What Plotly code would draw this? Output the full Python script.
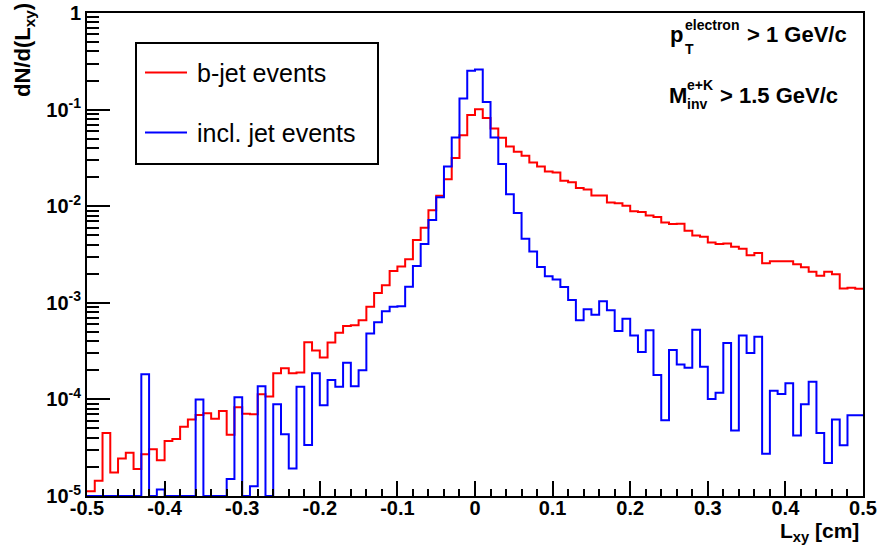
import numpy as np
import plotly.graph_objects as go

# Histogram binning: 100 bins of 0.01 cm between -0.5 and 0.5 cm
N_BINS = 100
L_MIN, L_MAX = -0.5, 0.5
Y_MIN, Y_MAX = 1e-5, 1.0

# dN/d(Lxy), normalised, one entry per bin (left to right)
bjet_events = [
    1.12e-5, 1.44e-5, 4.5e-5, 1.75e-5, 2.45e-5, 2.8e-5, 1.9e-5, 2.7e-5, 3.05e-5, 2.35e-5,
    3.7e-5, 3.9e-5, 5.2e-5, 6.2e-5, 6.9e-5, 7.2e-5, 6.3e-5, 7.6e-5, 4.3e-5, 8.3e-5,
    7.1e-5, 7.0e-5, 1.13e-4, 1.07e-4, 1.86e-4, 2.1e-4, 1.86e-4, 1.9e-4, 3.9e-4, 3.2e-4,
    2.72e-4, 3.88e-4, 4.9e-4, 5.75e-4, 5.85e-4, 6.6e-4, 9.1e-4, 1.26e-3, 1.52e-3, 2.14e-3,
    2.37e-3, 2.82e-3, 4.47e-3, 6.0e-3, 9.1e-3, 1.28e-2, 1.9e-2, 3.16e-2, 5.44e-2, 8.8e-2,
    0.101, 8.2e-2, 6.37e-2, 5.1e-2, 4.15e-2, 3.66e-2, 3.32e-2, 2.83e-2, 2.58e-2, 2.29e-2,
    2.23e-2, 1.83e-2, 1.77e-2, 1.54e-2, 1.49e-2, 1.29e-2, 1.29e-2, 1.09e-2, 1.07e-2, 1.01e-2,
    8.87e-3, 8.7e-3, 8.0e-3, 7.75e-3, 6.8e-3, 6.55e-3, 6.6e-3, 5.58e-3, 4.96e-3, 4.84e-3,
    4.2e-3, 4.07e-3, 4.1e-3, 3.8e-3, 3.63e-3, 3.1e-3, 3.28e-3, 2.57e-3, 2.69e-3, 2.7e-3,
    2.7e-3, 2.5e-3, 2.33e-3, 2.09e-3, 1.91e-3, 2.1e-3, 1.97e-3, 1.41e-3, 1.43e-3, 1.40e-3,
]

incl_jet_events = [
    0, 0, 0, 0, 0, 0, 0, 1.82e-4, 0, 1.17e-5,
    0, 0, 0, 0, 1.0e-4, 0, 0, 0, 1.5e-5, 1.05e-4,
    0, 1.26e-5, 1.37e-4, 0, 8.9e-5, 4.37e-5, 1.93e-5, 1.35e-4, 3.38e-5, 1.86e-4,
    8.7e-5, 1.59e-4, 1.35e-4, 2.4e-4, 1.37e-4, 2.0e-4, 4.8e-4, 6.3e-4, 8.2e-4, 9.1e-4,
    9.2e-4, 1.47e-3, 2.4e-3, 4.06e-3, 7.2e-3, 1.24e-2, 2.57e-2, 5.14e-2, 0.130, 0.252,
    0.26, 0.12, 5.14e-2, 2.73e-2, 1.33e-2, 8.5e-3, 4.6e-3, 3.4e-3, 2.35e-3, 1.88e-3,
    1.74e-3, 1.46e-3, 1.07e-3, 6.6e-4, 8.57e-4, 7.5e-4, 1.04e-3, 8.36e-4, 5.1e-4, 6.84e-4,
    4.6e-4, 3.1e-4, 5.2e-4, 1.79e-4, 6.1e-5, 3.24e-4, 2.3e-4, 2.13e-4, 5.26e-4, 2.18e-4,
    1.01e-4, 1.17e-4, 3.83e-4, 4.77e-5, 4.6e-4, 3.02e-4, 4.46e-4, 2.73e-5, 1.23e-4, 1.14e-4,
    1.47e-4, 4.24e-5, 8.9e-5, 1.52e-4, 4.5e-5, 2.2e-5, 6.2e-5, 3.36e-5, 6.87e-5, 6.87e-5,
]

series_names = ["b-jet events", "incl. jet events"]
series_colors = ["#ff0000", "#0000ff"]

x_tick_vals = [-0.5, -0.4, -0.3, -0.2, -0.1, 0.0, 0.1, 0.2, 0.3, 0.4, 0.5]
x_tick_text = ["-0.5", "-0.4", "-0.3", "-0.2", "-0.1", "0", "0.1", "0.2", "0.3", "0.4", "0.5"]
y_tick_vals = [1e-5, 1e-4, 1e-3, 1e-2, 1e-1, 1.0]
y_tick_text = ["10<sup>-5</sup>", "10<sup>-4</sup>", "10<sup>-3</sup>",
               "10<sup>-2</sup>", "10<sup>-1</sup>", "1"]

FONT = "Liberation Sans, Arial, Helvetica, sans-serif"

edges = np.linspace(L_MIN, L_MAX, N_BINS + 1)


def step_y(values):
    # empty bins sit on the lower frame edge, as in a ROOT histogram
    v = np.maximum(np.asarray(values, dtype=float), Y_MIN)
    return np.append(v, v[-1])


fig = go.Figure()
for name, color, vals in zip(series_names, series_colors, [bjet_events, incl_jet_events]):
    fig.add_trace(go.Scatter(
        x=edges, y=step_y(vals), mode="lines", line_shape="hv",
        line=dict(color=color, width=2), name=name, showlegend=False,
    ))

# minor tick positions
x_minor = [round(-0.5 + 0.02 * k, 2) for k in range(51)]
x_minor = [v for v in x_minor if all(abs(v - t) > 1e-9 for t in x_tick_vals)]
y_minor = [m * 10.0 ** e for e in range(-5, 0) for m in range(2, 10)]

fig.update_xaxes(
    range=[L_MIN, L_MAX], showgrid=False, zeroline=False, automargin=False,
    showline=True, linecolor="black", linewidth=2, mirror=True,
    ticks="inside", ticklen=15, tickwidth=2, tickcolor="black",
    tickmode="array", tickvals=x_tick_vals, ticktext=x_tick_text,
    tickfont=dict(family=FONT, size=20, color="black", weight=700),
    ticklabelstandoff=-7,
    minor=dict(ticks="inside", ticklen=7, tickwidth=2, tickcolor="black",
               tickmode="array", tickvals=x_minor, showgrid=False),
)
fig.update_yaxes(
    type="log", range=[np.log10(Y_MIN), np.log10(Y_MAX)],
    showgrid=False, zeroline=False, automargin=False,
    showline=True, linecolor="black", linewidth=2, mirror=True,
    ticks="inside", ticklen=23, tickwidth=2, tickcolor="black",
    tickmode="array", tickvals=y_tick_vals, ticktext=y_tick_text,
    tickfont=dict(family=FONT, size=20, color="black", weight=700),
    minor=dict(ticks="inside", ticklen=12, tickwidth=2, tickcolor="black",
               tickmode="array", tickvals=y_minor, showgrid=False),
)

W, H = 879, 548
ML, MR, MT, MB = 87, 16, 13, 52
PW, PH = W - ML - MR, H - MT - MB


def px(xp):
    return (xp - ML) / PW


def py(yp):
    return 1 - (yp - MT) / PH


def bold(size):
    return dict(family=FONT, size=size, color="black", weight=700)


annotations = [
    dict(text="L<sub>xy</sub> [cm]", x=px(861), y=py(517), xanchor="right", yanchor="top",
         font=bold(21)),
    dict(text="dN/d(L<sub>xy</sub>)", x=px(24), y=py(1), xanchor="center", yanchor="top",
         textangle=-90, font=bold(22)),
    # cut labels, top right
    dict(text="p", x=px(668), y=py(34.5), xanchor="left", yanchor="middle", font=bold(22)),
    dict(text="electron", x=px(683), y=py(25), xanchor="left", yanchor="middle", font=bold(14)),
    dict(text="T", x=px(683), y=py(49), xanchor="left", yanchor="middle", font=bold(14)),
    dict(text="> 1 GeV/c", x=px(745), y=py(34.5), xanchor="left", yanchor="middle",
         font=bold(22)),
    dict(text="M", x=px(667), y=py(95), xanchor="left", yanchor="middle", font=bold(22)),
    dict(text="e+K", x=px(685), y=py(84.5), xanchor="left", yanchor="middle", font=bold(14)),
    dict(text="inv", x=px(685), y=py(104), xanchor="left", yanchor="middle", font=bold(14)),
    dict(text="> 1.5 GeV/c", x=px(718), y=py(95), xanchor="left", yanchor="middle",
         font=bold(22)),
]

# legend box with line samples and entries
legend_rows = [72.5, 132.5]
shapes = [dict(type="rect", xref="paper", yref="paper",
               x0=px(136), x1=px(378), y0=py(164), y1=py(43),
               line=dict(color="black", width=2), fillcolor="white", layer="above")]
for name, color, yr in zip(series_names, series_colors, legend_rows):
    shapes.append(dict(type="line", xref="paper", yref="paper",
                       x0=px(145), x1=px(187), y0=py(yr), y1=py(yr),
                       line=dict(color=color, width=2)))
    annotations.append(dict(text=name, x=px(195), y=py(yr), xanchor="left", yanchor="middle",
                            font=dict(family=FONT, size=25, color="black")))

for a in annotations:
    a.update(xref="paper", yref="paper", showarrow=False)

fig.update_layout(
    width=W, height=H,
    margin=dict(l=ML, r=MR, t=MT, b=MB, pad=0),
    paper_bgcolor="white", plot_bgcolor="white",
    font=dict(family=FONT, color="black"),
    showlegend=False,
    annotations=annotations,
    shapes=shapes,
)

fig.write_html("out.html")
